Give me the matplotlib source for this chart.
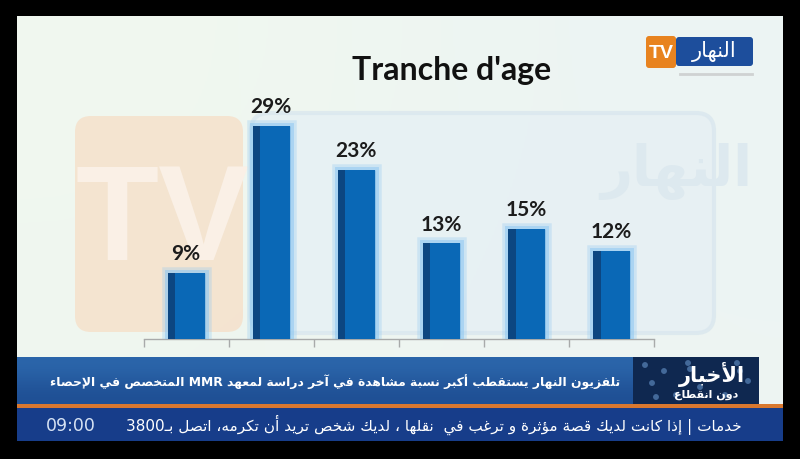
import re

import matplotlib
import numpy as np

matplotlib.use("Agg")
import matplotlib.patheffects as pe
import matplotlib.pyplot as plt
from matplotlib.patches import FancyBboxPatch, Rectangle

# ── data ────────────────────────────────────────────────────────────────────

TITLE = "Tranche d'age"
AGE_GROUPS = ["G1", "G2", "G3", "G4", "G5", "G6"]  # groups are not labelled on screen
SHARES = [9, 29, 23, 13, 15, 12]

BANNER_TEXT = "تلفزيون النهار يستقطب أكبر نسبة مشاهدة في آخر دراسة لمعهد MMR المتخصص في الإحصاء"
TICKER_TEXT = "خدمات | إذا كانت لديك قصة مؤثرة و ترغب في  نقلها ، لديك شخص تريد أن تكرمه، اتصل بـ3800"
TICKER_TIME = "09:00"
LOGO_TEXT = "النهار"
BOX_TITLE = "الأخبار"
BOX_SUB = "دون انقطاع"

BAR_BLUE = "#0a68b6"
BAR_DARK = "#0c4681"
GLOW = "#8fc8f2"
TEXT_COLOR = "#1c1c1c"
TICKER_BLUE = "#173d8a"
ORANGE = "#d9782f"

# ── minimal Arabic shaping (matplotlib draws glyphs left to right, unjoined) ─

_LETTERS = [
    ("ء", 1), ("آ", 2), ("أ", 2), ("ؤ", 2), ("إ", 2), ("ئ", 4), ("ا", 2), ("ب", 4),
    ("ة", 2), ("ت", 4), ("ث", 4), ("ج", 4), ("ح", 4), ("خ", 4), ("د", 2), ("ذ", 2),
    ("ر", 2), ("ز", 2), ("س", 4), ("ش", 4), ("ص", 4), ("ض", 4), ("ط", 4), ("ظ", 4),
    ("ع", 4), ("غ", 4), ("ف", 4), ("ق", 4), ("ك", 4), ("ل", 4), ("م", 4), ("ن", 4),
    ("ه", 4), ("و", 2), ("ى", 2), ("ي", 4),
]
_FORMS = {}
_code = 0xFE80
for _ch, _n in _LETTERS:
    _FORMS[_ch] = [chr(_code + i) for i in range(_n)]  # iso, fin, ini, med
    _code += _n
_LAM_ALEF = {"آ": "\uFEF5\uFEF6", "أ": "\uFEF7\uFEF8", "إ": "\uFEF9\uFEFA", "ا": "\uFEFB\uFEFC"}
_TATWEEL = "ـ"


def _joins_right(ch: str) -> bool:
    return ch == _TATWEEL or len(_FORMS.get(ch, [])) >= 2


def shape_arabic(text: str) -> str:
    out = []
    prev_joins = False
    i = 0
    while i < len(text):
        ch = text[i]
        nxt = text[i + 1] if i + 1 < len(text) else ""
        if ch == "ل" and nxt in _LAM_ALEF:
            out.append(_LAM_ALEF[nxt][1 if prev_joins else 0])
            prev_joins = False
            i += 2
            continue
        if ch == _TATWEEL:
            out.append(ch)
            prev_joins = True
            i += 1
            continue
        forms = _FORMS.get(ch)
        if forms is None:
            out.append(ch)
            prev_joins = False
            i += 1
            continue
        joins_next = len(forms) == 4 and _joins_right(nxt)
        if len(forms) == 4:
            idx = 3 if (prev_joins and joins_next) else 1 if prev_joins else 2 if joins_next else 0
        elif len(forms) == 2:
            idx = 1 if prev_joins else 0
        else:
            idx = 0
        out.append(forms[idx])
        prev_joins = joins_next
        i += 1
    return "".join(out)


def rtl(text: str) -> str:
    """Shape Arabic and put it in visual order, keeping Latin/digit runs intact."""
    runs = re.findall(r"[A-Za-z0-9:]+|[^A-Za-z0-9:]", shape_arabic(text))
    return "".join(reversed(runs))


def fit_width(txt, width_px: float) -> None:
    """Shrink a text artist so that it spans width_px pixels."""
    renderer = fig.canvas.get_renderer()
    w = txt.get_window_extent(renderer).width
    txt.set_fontsize(txt.get_fontsize() * width_px / w)


# ── figure ──────────────────────────────────────────────────────────────────

plt.rcParams["font.family"] = ["DejaVu Sans"]
fig = plt.figure(figsize=(8, 4.6), dpi=100, facecolor="black")

# pixel-space layer for the TV screen decorations
bg = fig.add_axes([0, 0, 1, 1])
bg.set_xlim(0, 800)
bg.set_ylim(460, 0)
bg.axis("off")

screen = np.array([[[0.945, 0.973, 0.937], [0.925, 0.957, 0.957]],
                   [[0.937, 0.965, 0.937], [0.930, 0.957, 0.953]]])
bg.imshow(screen, extent=(17, 783, 442, 17), interpolation="bicubic", aspect="auto", zorder=0)

# faded channel watermark behind the bars
bg.add_patch(FancyBboxPatch((255, 118), 455, 212, boxstyle="round,pad=4,rounding_size=18",
                            facecolor="#e6f0f4", edgecolor="#dae7ee", lw=3, alpha=0.8, zorder=1))
bg.text(676, 172, rtl(LOGO_TEXT), fontsize=40, color="#dde9ef", ha="center", va="center",
        fontweight="bold", zorder=1)
wm = FancyBboxPatch((78, 120), 162, 210, boxstyle="round,pad=3,rounding_size=16",
                    facecolor="#f5e2cd", edgecolor="none", alpha=0.9, zorder=2)
bg.add_patch(wm)
tv = bg.text(162, 225, "TV", fontsize=98, color="#faf0e6", ha="center", va="center",
             fontweight="bold", family="Liberation Sans", zorder=2)
tv.set_clip_path(wm)

# title
bg.text(452, 80, TITLE, fontsize=23, fontweight="bold", family="Lato", color="#111111",
        ha="center", va="baseline", zorder=5)

# channel logo (top right)
bg.add_patch(FancyBboxPatch((647, 38), 28, 30, boxstyle="round,pad=1,rounding_size=3",
                            facecolor="#e8831f", edgecolor="none", zorder=5))
bg.text(661, 54, "TV", fontsize=14, fontweight="bold", color="white", ha="center", va="center",
        family="Liberation Sans", zorder=6)
bg.add_patch(FancyBboxPatch((677, 39), 75, 27, boxstyle="round,pad=1,rounding_size=3",
                            facecolor="#1d4e9c", edgecolor="none", zorder=5))
bg.text(714, 52, rtl(LOGO_TEXT), fontsize=15, color="white", ha="center", va="center", zorder=6)
bg.plot([680, 752], [75, 75], color="#cfd2d2", lw=2, zorder=5)

# news banner
banner = np.array([[[0.17, 0.40, 0.67]], [[0.12, 0.31, 0.58]]])
bg.imshow(banner, extent=(17, 759, 405, 358), interpolation="bicubic", aspect="auto", zorder=5)
bg.add_patch(Rectangle((633, 358), 126, 47, facecolor="#0f2850", edgecolor="none", zorder=6))
sx = [645, 652, 664, 676, 688, 700, 737, 748, 656, 690, 725, 740]
sy = [366, 384, 372, 396, 364, 388, 364, 382, 398, 370, 396, 372]
bg.scatter(sx, sy, s=18, color="#6f9fd6", alpha=0.55, edgecolors="none", zorder=6)
bg.text(712, 374, rtl(BOX_TITLE), fontsize=15, fontweight="bold", color="white",
        ha="center", va="center", zorder=7)
bg.text(706, 395, rtl(BOX_SUB), fontsize=8, fontweight="bold", color="white",
        ha="center", va="center", zorder=7)
banner_txt = bg.text(620, 382, rtl(BANNER_TEXT), fontsize=11.5, fontweight="bold", color="white",
                     ha="right", va="center", zorder=7)
fit_width(banner_txt, 575)

# ticker
bg.add_patch(Rectangle((17, 405), 766, 4, facecolor=ORANGE, edgecolor="none", zorder=5))
bg.add_patch(Rectangle((17, 409), 766, 33, facecolor=TICKER_BLUE, edgecolor="none", zorder=5))
ticker_txt = bg.text(742, 425, rtl(TICKER_TEXT), fontsize=12.5, color="white",
                     ha="right", va="center", zorder=7)
fit_width(ticker_txt, 618)
bg.text(71, 426, TICKER_TIME, fontsize=12.5, color="#d6e2f3", ha="center", va="center", zorder=7)

# ── bar chart ───────────────────────────────────────────────────────────────

ax = fig.add_axes([143.5 / 800, 120 / 460, 510.5 / 800, 240 / 460])
ax.patch.set_alpha(0)
x = np.arange(len(AGE_GROUPS))
width = 0.435

ax.bar(x, SHARES, width=width, color=BAR_BLUE, zorder=3,
       path_effects=[pe.Stroke(linewidth=9, foreground=GLOW, alpha=0.3),
                     pe.Stroke(linewidth=5, foreground=GLOW, alpha=0.55), pe.Normal()])
ax.bar(x - width / 2, SHARES, width=0.09, align="edge", color=BAR_DARK, zorder=4)

for xi, value in zip(x, SHARES):
    ax.text(xi, value + 1.85, f"{value}%", ha="center", va="baseline", fontsize=15,
            fontweight="bold", family="Lato", color=TEXT_COLOR, zorder=5)

ax.set_xlim(-0.5, len(AGE_GROUPS) - 0.5)
ax.set_ylim(0, 240 / 7.35)
for side in ("top", "right", "left"):
    ax.spines[side].set_visible(False)
ax.spines["bottom"].set_color("#a8aaaa")
ax.spines["bottom"].set_linewidth(1)
ax.set_yticks([])
ax.set_xticks(np.arange(-0.5, len(AGE_GROUPS), 1.0))
ax.set_xticklabels([])
ax.tick_params(axis="x", direction="out", length=6, color="#a8aaaa", width=1)

fig.savefig("out.png", dpi=100, facecolor="black")
